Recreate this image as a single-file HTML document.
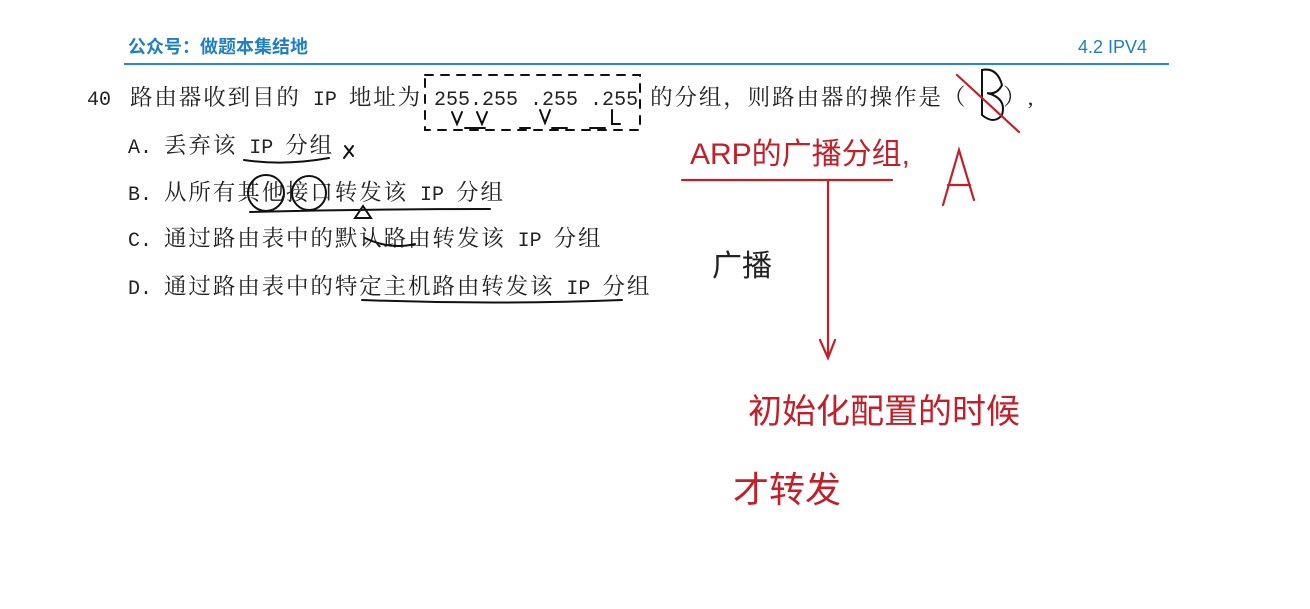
<!DOCTYPE html>
<html><head><meta charset="utf-8"><style>
body{margin:0;width:1310px;height:609px;background:#fff;overflow:hidden;position:relative;font-family:"Liberation Serif","Noto Serif CJK SC",serif;}
.t{position:absolute;font-size:22.5px;letter-spacing:1.9px;color:#222;white-space:pre;line-height:1;}
.t b{font-weight:normal;font-family:"Liberation Mono",monospace;font-size:20px;letter-spacing:0;}
.h{position:absolute;font-family:"Liberation Sans","Noto Sans CJK SC",sans-serif;color:#1f7fc0;font-size:18px;font-weight:bold;line-height:1;}
.r{position:absolute;color:#c0202a;font-family:"Liberation Sans","Noto Sans CJK SC",sans-serif;line-height:1;white-space:nowrap;}
</style></head><body>
<div class="h" style="left:128px;top:38px">公众号：做题本集结地</div>
<div class="h" style="left:1078px;top:38px;font-weight:normal">4.2 IPV4</div>
<div style="position:absolute;left:124px;top:63px;width:1045px;height:2px;background:#2a8ac8"></div>
<div class="t" style="left:87px;top:87px"><b>40</b></div>
<div class="t" style="left:130px;top:87px">路由器收到目的<b> IP </b>地址为<b> 255.255 .255 .255 </b>的分组，则路由器的操作是（<b>   </b>）,</div>
<div class="t" style="left:128px;top:135px"><b>A. </b>丢弃该<b> IP </b>分组</div>
<div class="t" style="left:128px;top:182px"><b>B. </b>从所有其他接口转发该<b> IP </b>分组</div>
<div class="t" style="left:128px;top:228px"><b>C. </b>通过路由表中的默认路由转发该<b> IP </b>分组</div>
<div class="t" style="left:128px;top:276px"><b>D. </b>通过路由表中的特定主机路由转发该<b> IP </b>分组</div>
<svg style="position:absolute;left:0;top:0" width="1310" height="609" fill="none" stroke-linecap="round">
<g stroke="#111" stroke-width="2">
<rect x="425" y="75" width="215" height="55" stroke-dasharray="8,8"/>
<path d="M452 112l5 12 5-12M477 112l5 12 5-12M540 110l5 13 5-13M612 110l0 14 8 0M465 128h20M520 128h10M552 128h15M590 128h15"/>
<path d="M244 160q40 6 85-2M345 146l8 10M353 146l-9 12"/>
<circle cx="266" cy="193" r="18"/><circle cx="309" cy="193" r="17"/>
<path d="M250 212q120 -3 240 -3M355 218l8-12 8 12z"/>
<path d="M365 238q25 12 50 6M362 300q130 5 260 0"/>
<path d="M982 70q15-3 20 15q-5 10-15 8q20 5 15 22q-8 10-20 0z"/>
</g>
<g stroke="#c0202a" stroke-width="2.2">
<path d="M957 75l62 57"/>
<path d="M682 180h210M828 182v175M820 340l8 18 7-18"/>
<path d="M943 205l16-55 15 50M948 185h22"/>
</g>
</svg>
<div class="r" style="left:690px;top:140px;font-size:30px">ARP的广播分组,</div>
<div class="r" style="left:712px;top:252px;font-size:30px;color:#222">广播</div>
<div class="r" style="left:748px;top:395px;font-size:34px">初始化配置的时候</div>
<div class="r" style="left:733px;top:472px;font-size:36px">才转发</div>
</body></html>
